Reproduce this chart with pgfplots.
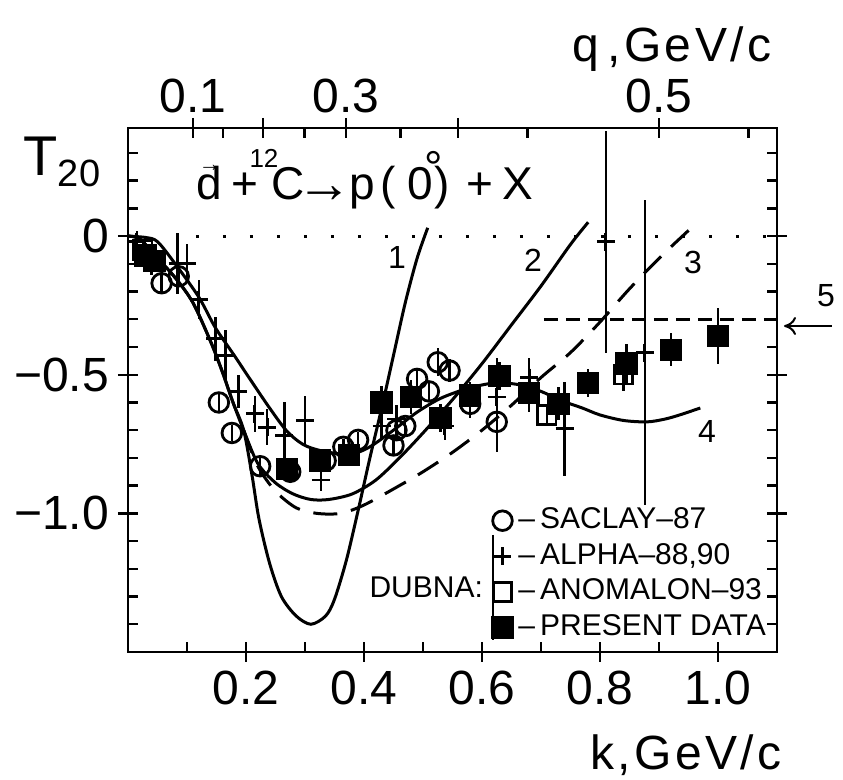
\documentclass[border=0pt]{standalone}
\usepackage{fontspec}
\setmainfont{Liberation Sans}
\newfontfamily\wide{Liberation Sans}[LetterSpace=7]
\usepackage{pgfplots}
\pgfplotsset{compat=1.18}
\usetikzlibrary{arrows.meta}

\newcommand{\tk}{\fontsize{24}{24}\selectfont}
\newcommand{\lgf}{\fontsize{15}{15}\selectfont}
\newcommand{\cl}{\fontsize{16}{16}\selectfont}
\newcommand{\ti}{\fontsize{23}{23}\selectfont}

\pgfplotsset{
  frame/.style={
    at={(0,0)}, anchor=south west,
    scale only axis, width=324.5pt, height=262pt,
    xmin=0, xmax=1.1, ymin=-1.5, ymax=0.39,
    axis line style={line width=1.4pt},
    tick align=inside,
    major tick length=10pt, minor tick length=5pt,
    tick style={line width=1.2pt, black},
    tick label style={font=\tk},
    ytick={0,-0.5,-1},
    minor ytick={0.3,0.2,0.1,-0.1,-0.2,-0.3,-0.4,-0.6,-0.7,-0.8,-0.9,-1.1,-1.2,-1.3,-1.4},
  },
  ebar/.style={error bars/.cd, y dir=both, y explicit, error mark=none,
    error bar style={line width=1.2pt}},
}

\begin{document}
\begin{tikzpicture}
\useasboundingbox (-64pt,-64pt) rectangle (357.5pt,326pt);

% top axis: q scale, right-hand ticks
\begin{axis}[frame,
  xtick={0.110,0.229,0.370,0.559,0.900},
  xticklabels={0.1,,0.3,,0.5},
  minor xtick={0.161,0.299,0.462,0.677,1.052},
  xtick pos=right, xticklabel pos=right,
  xticklabel style={yshift=4pt},
  yticklabels={}, ytick pos=right,
  every major x tick/.append style={yshift=5pt},
  every major y tick/.append style={xshift=5pt},
]
\addplot[draw=none] coordinates {(0.5,0)};
\end{axis}

% main axis: k scale
\begin{axis}[frame,
  xtick={0.2,0.4,0.6,0.8,1.0}, xticklabels={0.2,0.4,0.6,0.8,1.0},
  minor xtick={0.1,0.3,0.5,0.7,0.9},
  xtick pos=left,
  xticklabel style={yshift=-6pt},
  yticklabels={0,−0.5,−1.0}, ytick pos=left,
  yticklabel style={xshift=-6pt},
  every major x tick/.append style={yshift=-5pt},
  every major y tick/.append style={xshift=-5pt},
  legend style={draw=none, fill=none, at={(axis description cs:0.561,0.278)},
    anchor=north west, inner sep=0pt, row sep=3.8pt,
    nodes={inner sep=0.5pt, text height=10.5pt, text depth=2.5pt, font=\lgf, anchor=west}},
  legend image code/.code={\draw[#1] plot coordinates {(0pt,0pt)};},
  legend cell align=left,
]
% theory curves
\addplot[line width=1.5pt, smooth, forget plot] coordinates {
  (0,0) (0.02,-0.01) (0.046,-0.07) (0.08,-0.15) (0.11,-0.24) (0.14,-0.38)
  (0.16,-0.49) (0.178,-0.60) (0.196,-0.70) (0.21,-0.86) (0.222,-1.02)
  (0.24,-1.18) (0.26,-1.30) (0.285,-1.37) (0.31,-1.40) (0.335,-1.37)
  (0.35,-1.31) (0.37,-1.17) (0.39,-0.99) (0.41,-0.80) (0.43,-0.62)
  (0.45,-0.43) (0.47,-0.24) (0.49,-0.08) (0.508,0.03)};
\addplot[line width=1.5pt, smooth, forget plot] coordinates {
  (0,0) (0.02,-0.01) (0.046,-0.07) (0.08,-0.15) (0.11,-0.24) (0.14,-0.38)
  (0.16,-0.49) (0.178,-0.60) (0.196,-0.70) (0.22,-0.82) (0.25,-0.89)
  (0.28,-0.93) (0.31,-0.95) (0.34,-0.95) (0.38,-0.93) (0.42,-0.88)
  (0.46,-0.80) (0.50,-0.71) (0.55,-0.59) (0.60,-0.46) (0.65,-0.32)
  (0.70,-0.18) (0.75,-0.03) (0.78,0.05)};
\addplot[line width=1.5pt, smooth, dash pattern=on 12pt off 7pt, forget plot] coordinates {
  (0.196,-0.70) (0.22,-0.83) (0.25,-0.92) (0.285,-0.98) (0.32,-1.0)
  (0.36,-1.0) (0.40,-0.97) (0.46,-0.90) (0.50,-0.85) (0.55,-0.78)
  (0.60,-0.70) (0.65,-0.61) (0.70,-0.51) (0.75,-0.42) (0.80,-0.31)
  (0.85,-0.19) (0.905,-0.07) (0.96,0.04)};
\addplot[line width=1.5pt, smooth, forget plot] coordinates {
  (0,0) (0.03,-0.005) (0.05,-0.02) (0.08,-0.10) (0.12,-0.22) (0.148,-0.33)
  (0.18,-0.43) (0.205,-0.51) (0.24,-0.62) (0.27,-0.705) (0.30,-0.755)
  (0.34,-0.78) (0.38,-0.785) (0.41,-0.76) (0.45,-0.70) (0.49,-0.635)
  (0.53,-0.585) (0.575,-0.55) (0.62,-0.53) (0.66,-0.535) (0.70,-0.56)
  (0.73,-0.59) (0.77,-0.62) (0.80,-0.645) (0.84,-0.665) (0.88,-0.67)
  (0.91,-0.66) (0.935,-0.645) (0.97,-0.62)};
\addplot[line width=1.5pt, dash pattern=on 1.5pt off 12pt, forget plot] coordinates {(0.115,0) (1.1,0)};
\addplot[line width=1.4pt, dash pattern=on 7pt off 4pt, forget plot] coordinates {(0.705,-0.30) (1.1,-0.30)};

% data
\addplot[only marks, mark=o, mark size=4.9pt, line width=1.4pt, ebar]
  table[x=k, y=T, y error=e] {
k T e
0.057 -0.17 0.03
0.086 -0.145 0.03
0.154 -0.60 0.03
0.176 -0.71 0.03
0.224 -0.83 0.03
0.275 -0.85 0.03
0.335 -0.81 0.03
0.365 -0.76 0.03
0.39 -0.735 0.03
0.45 -0.755 0.03
0.455 -0.70 0.03
0.47 -0.685 0.03
0.49 -0.515 0.04
0.51 -0.56 0.03
0.525 -0.455 0.05
0.545 -0.485 0.04
0.58 -0.605 0.05
0.625 -0.67 0.11
};
\addlegendentry{\,–\,SACLAY–87}
\addplot[only marks, mark=+, mark size=4.5pt, line width=1.4pt, ebar]
  table[x=k, y=T, y error=e] {
k T e
0.015 -0.02 0.04
0.04 -0.10 0.04
0.084 -0.10 0.11
0.10 -0.10 0.07
0.12 -0.23 0.07
0.148 -0.37 0.08
0.165 -0.43 0.09
0.187 -0.56 0.06
0.215 -0.64 0.065
0.236 -0.69 0.065
0.265 -0.72 0.12
0.30 -0.665 0.09
0.327 -0.88 0.04
0.43 -0.685 0.05
0.455 -0.66 0.05
0.537 -0.685 0.05
0.625 -0.58 0.14
0.68 -0.51 0.07
0.74 -0.695 0.17
0.81 -0.02 0.40
0.876 -0.42 0.55
};
\addlegendentry{\,–\,ALPHA–88,90}
\addplot[only marks, mark=square, mark size=4.6pt, line width=1.4pt, ebar]
  table[x=k, y=T, y error=e] {
k T e
0.025 -0.05 0.03
0.71 -0.645 0.04
0.84 -0.50 0.06
};
\addlegendentry{\,–\,ANOMALON–93}
\addplot[only marks, mark=square*, mark size=5pt, line width=1.2pt, ebar]
  table[x=k, y=T, y error=e] {
k T e
0.03 -0.07 0.03
0.045 -0.09 0.03
0.27 -0.84 0.04
0.325 -0.81 0.04
0.375 -0.79 0.04
0.43 -0.60 0.06
0.48 -0.58 0.06
0.53 -0.655 0.05
0.58 -0.575 0.05
0.63 -0.505 0.05
0.68 -0.565 0.07
0.73 -0.605 0.06
0.78 -0.53 0.05
0.845 -0.46 0.07
0.92 -0.41 0.06
1.0 -0.36 0.10
};
\addlegendentry{\,–\,PRESENT DATA}
\end{axis}

% reaction label, glyph by glyph as in the original lettering
\begin{scope}[every node/.style={anchor=base, inner sep=0pt, font=\ti}]
\node at (40.5pt,226pt) {d};
\node[font=\fontsize{11}{11}\selectfont] at (41pt,240pt) {→};
\node at (58.5pt,226pt) {+};
\node[font=\fontsize{13}{13}\selectfont] at (68pt,242pt) {12};
\node at (80pt,226pt) {C};
\node[font=\fontsize{28}{28}\selectfont] at (98.5pt,224.5pt) {→};
\node at (117pt,226pt) {p};
\node at (130pt,226pt) {(};
\node at (146pt,226pt) {0};
\node at (153pt,234pt) {°};
\node at (157pt,226pt) {)};
\node at (176pt,226pt) {+};
\node at (195pt,226pt) {X};
\end{scope}

\node[font=\fontsize{28}{28}\selectfont, anchor=base] at (-33pt,238pt)
  {T\raisebox{-0.35ex}{\fontsize{19}{19}\selectfont 20}};
\node[font=\tk\wide, anchor=base] at (272pt,295pt) {q\,,GeV/c};
\node[font=\tk\wide, anchor=base] at (279pt,-59pt) {k,GeV/c};
\node[font=\cl] at (134.5pt,197pt) {1};
\node[font=\cl] at (202.5pt,196pt) {2};
\node[font=\cl] at (282.5pt,195pt) {3};
\node[font=\cl] at (289.5pt,110pt) {4};
\node[font=\cl] at (349pt,178pt) {5};
\draw[line width=1pt, -{To[length=6pt, width=9pt]}] (352pt,163pt) -- (328pt,163pt);
\node[font=\lgf, anchor=east] at (181pt,32.5pt) {DUBNA:};
\draw[line width=1.2pt] (182.5pt,58.5pt) -- (182.5pt,6pt);
\end{tikzpicture}
\end{document}
